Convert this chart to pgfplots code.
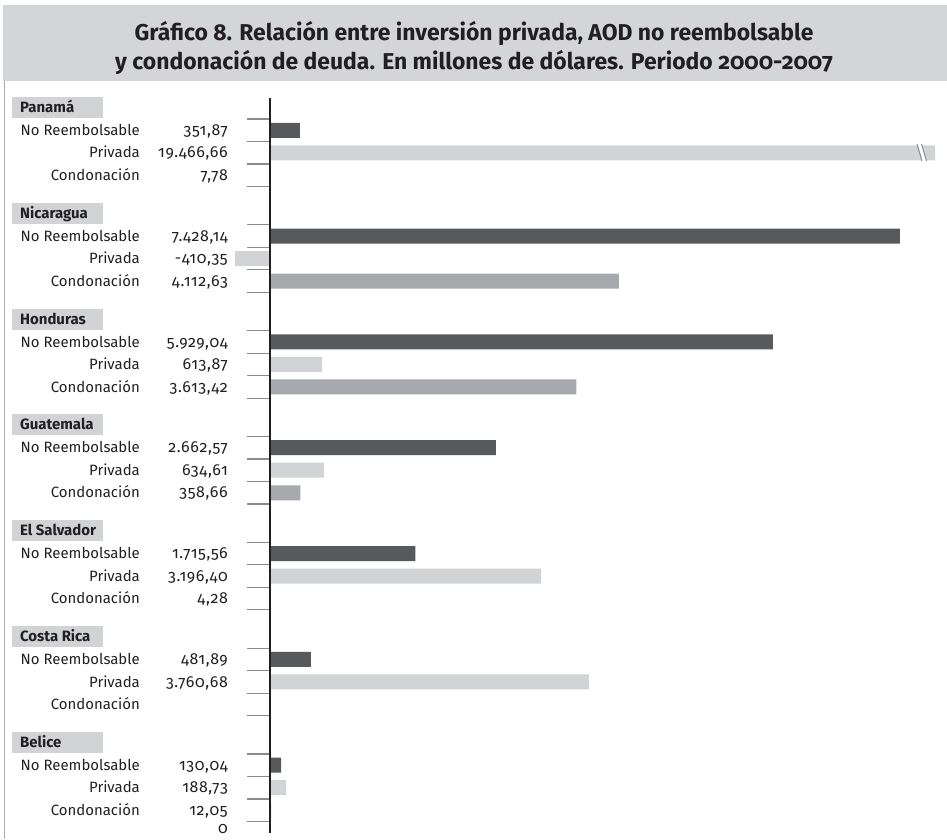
\documentclass[border=0pt]{standalone}
\usepackage{fontspec}
\setmainfont{Fira Sans}[Numbers=OldStyle]
\newfontfamily\numfont{Fira Sans}[Numbers=OldStyle, LetterSpace=4]
\usepackage{pgfplots}
\pgfplotsset{compat=1.18}
\usepackage{pgfplotstable}
\definecolor{cNo}{HTML}{58595B}
\definecolor{cPr}{HTML}{D1D3D4}
\definecolor{cCo}{HTML}{A7A9AC}
\definecolor{cTitle}{HTML}{D4D5D6}
\definecolor{cTxt}{HTML}{231F20}
\definecolor{cTick}{HTML}{8A8B8D}

% y = row position (pixels from top), v = value (millones de USD)
\pgfplotstableread{
y v
130.25 351.87
236.08 7428.14
341.91 5929.04
447.74 2662.57
553.57 1715.56
659.40 481.89
765.23 130.04
}\noreemb
\pgfplotstableread{
y v
152.75 19466.66
258.58 -410.35
364.41 613.87
470.24 634.61
576.07 3196.40
681.90 3760.68
787.73 188.73
}\privada
\pgfplotstableread{
y v
175.25 7.78
281.08 4112.63
386.91 3613.42
492.74 358.66
598.57 4.28
810.23 12.05
}\condonacion

\begin{document}
\begin{tikzpicture}
\begin{axis}[at={(0,0)}, anchor=south west, scale only axis,
  width=947bp, height=839bp,
  xmin=-3183.96, xmax=7983.49, ymin=0, ymax=839, y dir=reverse,
  hide axis, xbar, bar width=15bp, bar shift=0pt, clip=false]
\addplot[fill=cNo, draw=none] table[x=v,y=y]{\noreemb};
\addplot[fill=cPr, draw=none, x filter/.expression={x>7842 ? 7842 : x}] table[x=v,y=y]{\privada};
\addplot[fill=cCo, draw=none] table[x=v,y=y]{\condonacion};
\end{axis}
\begin{scope}[x=1bp,y=-1bp,shift={(0,839bp)}]
\path (0,0) rectangle (947,839);
% title
\fill[cTitle] (3,5) rectangle (947,81);
\node[anchor=base, font=\fontsize{23}{28}\selectfont\bfseries, text=cTxt] at (474,41) {Gráfico 8. Relación entre inversión privada, AOD no reembolsable};
\node[anchor=base, font=\fontsize{23}{28}\selectfont\bfseries, text=cTxt] at (474,70) {y condonación de deuda. En millones de dólares. Periodo 2000-2007};
\draw[cTick!70, line width=1bp] (4,81) -- (4,839);
% ticks
\foreach \g in {0,...,6}{
  \foreach \k in {0,...,3}{
    \draw[cTick, line width=1.2bp] (247,{119+105.83*\g+22.5*\k}) -- (270,{119+105.83*\g+22.5*\k});
  }
}
\draw[cTxt, line width=2.5bp] (270,98) -- (270,833);
% break mark
\draw[white, line width=3.5bp] (919.5,144) -- (924.5,161);
\draw[cTick, line width=1bp] (917,144) -- (922,161);
\draw[cTick, line width=1bp] (921.5,144) -- (926.5,161);
% labels
\foreach \g/\a/\b/\c/\name in {0/{351,87}/{19.466,66}/{7,78}/Panamá,
  1/{7.428,14}/{-410,35}/{4.112,63}/Nicaragua,
  2/{5.929,04}/{613,87}/{3.613,42}/Honduras,
  3/{2.662,57}/{634,61}/{358,66}/Guatemala,
  4/{1.715,56}/{3.196,40}/{4,28}/El Salvador,
  5/{481,89}/{3.760,68}/{}/Costa Rica,
  6/{130,04}/{188,73}/{12,05}/Belice}{
  \pgfmathsetmacro{\T}{119+105.83*\g}
  \fill[cPr] (12,{\T-22}) rectangle (103,{\T-1});
  \node[anchor=base west, font=\fontsize{15}{17}\selectfont\bfseries, text=cTxt, inner sep=0pt] at (20,{\T-6.5}) {\name};
  \node[anchor=base east, font=\fontsize{15}{17}\selectfont, text=cTxt, inner sep=0pt] at (140,{\T+16.5}) {No Reembolsable};
  \node[anchor=base east, font=\fontsize{15}{17}\selectfont, text=cTxt, inner sep=0pt] at (140,{\T+39}) {Privada};
  \node[anchor=base east, font=\fontsize{15}{17}\selectfont, text=cTxt, inner sep=0pt] at (140,{\T+61.5}) {Condonación};
  \node[anchor=base east, font=\fontsize{16}{18}\selectfont\numfont, text=cTxt, inner sep=0pt] at (228,{\T+16.5}) {\a};
  \node[anchor=base east, font=\fontsize{16}{18}\selectfont\numfont, text=cTxt, inner sep=0pt] at (228,{\T+39}) {\b};
  \node[anchor=base east, font=\fontsize{16}{18}\selectfont\numfont, text=cTxt, inner sep=0pt] at (228,{\T+61.5}) {\c};
}
\node[anchor=base east, font=\fontsize{16}{18}\selectfont\numfont, text=cTxt, inner sep=0pt] at (228,834) {0};
\end{scope}
\end{tikzpicture}
\end{document}
